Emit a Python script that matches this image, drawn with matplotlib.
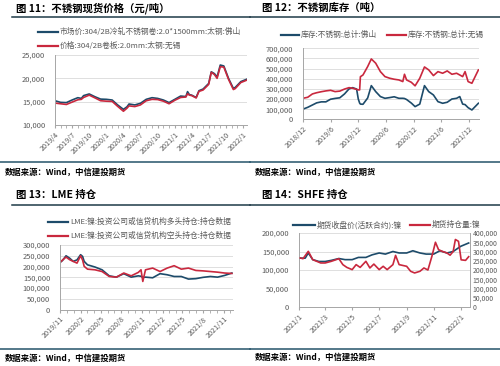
import numpy as np
import pandas as pd
import matplotlib
matplotlib.use("Agg")
import matplotlib.pyplot as plt
import matplotlib.dates as mdates
from matplotlib.lines import Line2D
from matplotlib.ticker import FuncFormatter, MultipleLocator

plt.rcParams['font.family'] = ['Noto Sans CJK SC', 'DejaVu Sans']

# ---- data: fig 11, stainless spot price (yuan/t)
p11_dates = ['2019-04-01', '2019-05-01', '2019-06-01', '2019-07-01', '2019-08-01', '2019-08-20',
             '2019-09-01', '2019-10-01', '2019-11-01', '2019-12-01', '2020-01-01', '2020-02-01',
             '2020-03-01', '2020-04-01', '2020-04-20', '2020-05-01', '2020-06-01', '2020-07-01',
             '2020-08-01', '2020-09-01', '2020-10-01', '2020-11-01', '2020-12-01', '2021-01-01',
             '2021-02-01', '2021-03-01', '2021-03-10', '2021-03-20', '2021-04-01', '2021-04-25',
             '2021-05-10', '2021-06-01', '2021-07-01', '2021-07-15', '2021-08-01', '2021-08-15',
             '2021-09-01', '2021-09-20', '2021-10-15', '2021-11-10', '2021-11-20', '2021-12-20',
             '2022-01-20']
p11_foshan = [15200, 14850, 14800, 15350, 15850, 15700, 16300, 16650, 16050, 15550, 15500, 15350,
              14300, 13350, 13900, 14500, 14300, 14650, 15500, 15850, 15700, 15350, 14800, 15500,
              16200, 16100, 17150, 16500, 16400, 15900, 17350, 17700, 18900, 21400, 21000, 20300,
              22850, 22650, 20000, 17850, 18050, 19300, 19800]
p11_wuxi = [14700, 14550, 14400, 14900, 15400, 15500, 15900, 16400, 15800, 15200, 15100, 15050,
            14000, 12950, 13600, 14100, 13950, 14300, 15200, 15500, 15450, 15100, 14550, 15300,
            15900, 16000, 16700, 16400, 16300, 15800, 17200, 17500, 18700, 21300, 20800, 20000,
            22500, 22400, 19800, 17600, 17800, 19100, 19600]

# ---- data: fig 12, stainless inventory (t)
p12_dates = ['2018-12-01', '2019-01-01', '2019-02-01', '2019-03-01', '2019-04-01', '2019-05-01',
             '2019-06-01', '2019-07-01', '2019-08-01', '2019-09-01', '2019-10-01', '2019-10-25',
             '2019-11-20', '2019-12-01', '2019-12-10', '2019-12-15', '2020-01-01', '2020-02-01',
             '2020-02-25', '2020-03-25', '2020-04-25', '2020-05-25', '2020-06-25', '2020-07-25',
             '2020-08-25', '2020-09-20', '2020-10-01', '2020-10-15', '2020-11-15', '2020-12-10',
             '2021-01-10', '2021-02-10', '2021-03-10', '2021-04-10', '2021-05-10', '2021-06-10',
             '2021-07-10', '2021-08-10', '2021-09-10', '2021-10-01', '2021-10-20', '2021-11-05',
             '2021-11-25', '2021-12-20', '2022-02-01']
p12_foshan = [100, 118, 141, 162, 172, 172, 198, 206, 212, 250, 300, 312, 298, 200, 160, 150,
              148, 210, 332, 273, 224, 207, 214, 222, 207, 207, 205, 195, 160, 125, 150, 332,
              273, 240, 174, 158, 168, 200, 207, 224, 150, 145, 115, 92, 158]
p12_wuxi = [207, 217, 250, 262, 272, 280, 286, 273, 278, 298, 312, 306, 295, 290, 290, 420,
            437, 520, 595, 553, 470, 421, 405, 395, 388, 372, 444, 388, 365, 330, 405, 516,
            487, 431, 470, 454, 477, 444, 454, 437, 421, 470, 372, 355, 487]

# ---- data: fig 13, LME nickel positions
p13_dates = ['2019-11-01', '2019-11-12', '2019-11-28', '2019-12-14', '2019-12-30', '2020-01-16',
             '2020-02-01', '2020-02-10', '2020-02-17', '2020-03-03', '2020-04-05', '2020-05-07',
             '2020-06-08', '2020-07-10', '2020-08-12', '2020-09-14', '2020-10-16', '2020-10-28',
             '2020-11-05', '2020-11-17', '2020-12-19', '2021-01-21', '2021-02-22', '2021-03-25',
             '2021-04-26', '2021-05-28', '2021-06-30', '2021-08-01', '2021-09-03', '2021-10-05',
             '2021-11-06', '2021-12-08']
p13_long = [219, 228, 250, 239, 224, 231, 255, 247, 224, 208, 198, 185, 157, 151, 167, 151,
            157, 155, 150, 151, 148, 167, 162, 154, 154, 142, 144, 150, 154, 151, 159, 170]
p13_short = [219, 230, 244, 232, 224, 216, 250, 230, 201, 188, 185, 177, 154, 151, 170, 157,
             173, 185, 131, 185, 193, 177, 193, 204, 188, 193, 182, 180, 177, 174, 170, 168]

# ---- data: fig 14, SHFE nickel
p14_price_dates = ['2021-01-04', '2021-01-15', '2021-01-22', '2021-02-01', '2021-02-15', '2021-03-01',
                   '2021-03-15', '2021-04-01', '2021-04-15', '2021-05-01', '2021-05-15', '2021-06-01',
                   '2021-06-15', '2021-07-01', '2021-07-15', '2021-08-01', '2021-08-15', '2021-09-01',
                   '2021-09-15', '2021-10-01', '2021-10-15', '2021-11-01', '2021-11-15', '2021-12-01',
                   '2021-12-15', '2022-01-01', '2022-01-19']
p14_price = [132, 132, 146, 128, 123, 123, 126, 131, 128, 128, 134, 134, 141, 146, 143, 150, 146,
             146, 152, 146, 143, 143, 152, 146, 150, 164, 173]
p14_oi_dates = ['2021-01-04', '2021-01-10', '2021-01-22', '2021-02-01', '2021-02-10', '2021-02-19',
                '2021-03-01', '2021-03-15', '2021-04-01', '2021-04-10', '2021-04-19', '2021-05-01',
                '2021-05-10', '2021-05-19', '2021-06-01', '2021-06-10', '2021-06-19', '2021-07-01',
                '2021-07-10', '2021-07-19', '2021-08-01', '2021-08-07', '2021-08-15', '2021-09-01',
                '2021-09-10', '2021-09-19', '2021-10-01', '2021-10-10', '2021-10-19', '2021-10-28',
                '2021-11-05', '2021-11-12', '2021-11-20', '2021-12-01', '2021-12-08', '2021-12-15',
                '2021-12-20', '2021-12-27', '2022-01-02', '2022-01-12', '2022-01-19']
p14_oi = [265, 261, 301, 256, 247, 238, 238, 247, 261, 229, 214, 202, 229, 214, 247, 211, 232,
          202, 220, 202, 229, 279, 229, 220, 193, 184, 193, 211, 200, 274, 350, 310, 301, 292,
          280, 300, 365, 355, 255, 252, 272]

W, H = 500, 366
BLUE = '#1d4b6a'
RED = '#c9283e'
GREY = '#595959'
GRID = '#d9d9d9'
AXC = '#a6a6a6'

fig = plt.figure(figsize=(5, 3.66), dpi=100)


def fx(x):
    return x / W


def fy(y):
    return 1 - y / H


def add_ax(x0, y0, x1, y1):
    return fig.add_axes([fx(x0), fy(y1), fx(x1) - fx(x0), fy(y0) - fy(y1)])


def hline(y, x0, x1, color, lw=1.0):
    fig.add_artist(Line2D([fx(x0), fx(x1)], [fy(y), fy(y)], color=color, lw=lw))


def legend_item(x0, x1, y, color, label):
    fig.add_artist(Line2D([fx(x0), fx(x1)], [fy(y), fy(y)], color=color, lw=1.6))
    fig.text(fx(x1 + 2), fy(y), label, fontsize=5.6, color=GREY, va='center', ha='left')


def header(x, y, title, line_y, lx0, lx1):
    fig.text(fx(x), fy(y), title, fontsize=7.5, fontweight='bold', va='center', ha='left')
    hline(line_y, lx0, lx1, '#1e3a48', 1.1)


def footer(x, y, line_y, lx0, lx1):
    hline(line_y, lx0, lx1, '#24536a', 1.1)
    fig.text(fx(x), fy(y), '数据来源：Wind，中信建投期货', fontsize=6, fontweight='bold',
             style='italic', va='center', ha='left')


date_fmt = FuncFormatter(lambda v, pos: f"{mdates.num2date(v).year}/{mdates.num2date(v).month}")
comma_fmt = FuncFormatter(lambda v, pos: f"{int(v):,}")


def style_ax(ax):
    for s in ['top', 'right']:
        ax.spines[s].set_visible(False)
    ax.spines['left'].set_color(AXC)
    ax.spines['bottom'].set_color(AXC)
    ax.spines['left'].set_linewidth(0.7)
    ax.spines['bottom'].set_linewidth(0.7)
    ax.grid(axis='y', color=GRID, lw=0.6)
    ax.set_axisbelow(True)
    ax.tick_params(axis='y', length=0, labelsize=5.4, labelcolor=GREY, pad=7)
    ax.tick_params(axis='x', which='both', length=2.5, color=AXC, labelsize=5.2,
                   labelcolor=GREY, pad=1.5)
    ax.yaxis.set_major_formatter(comma_fmt)
    ax.xaxis.set_major_formatter(date_fmt)


def rotate(ax):
    for lab in ax.get_xticklabels():
        lab.set_rotation(45)
        lab.set_ha('right')
        lab.set_rotation_mode('anchor')


# ---------- fig 11
header(16, 8, '图 11：不锈钢现货价格（元/吨）', 17, 12, 250)
ax1 = add_ax(55, 55, 247, 125)
d = pd.to_datetime(p11_dates)
ax1.plot(d, p11_foshan, color=BLUE, lw=1.2)
ax1.plot(d, p11_wuxi, color=RED, lw=1.2)
ax1.set_ylim(10000, 25000)
ax1.yaxis.set_major_locator(MultipleLocator(5000))
ax1.set_xlim(pd.Timestamp('2019-04-01'), pd.Timestamp('2022-01-22'))
ax1.xaxis.set_major_locator(mdates.MonthLocator(bymonth=[1, 4, 7, 10]))
ax1.xaxis.set_minor_locator(mdates.MonthLocator())
style_ax(ax1)
rotate(ax1)
legend_item(38, 58, 32, BLUE, '市场价:304/2B冷轧不锈钢卷:2.0*1500mm:太钢:佛山')
legend_item(38, 58, 46, RED, '价格:304/2B卷板:2.0mm:太钢:无锡')
footer(5, 172, 162, 0, 250)

# ---------- fig 12
header(262, 8, '图 12：不锈钢库存（吨）', 17, 250, 500)
ax2 = add_ax(303, 48.3, 479, 119.3)
d = pd.to_datetime(p12_dates)
ax2.plot(d, np.array(p12_foshan) * 1000, color=BLUE, lw=1.2)
ax2.plot(d, np.array(p12_wuxi) * 1000, color=RED, lw=1.2)
ax2.set_ylim(0, 700000)
ax2.yaxis.set_major_locator(MultipleLocator(100000))
ax2.set_xlim(pd.Timestamp('2018-12-01'), pd.Timestamp('2022-02-05'))
ax2.xaxis.set_major_locator(mdates.MonthLocator(bymonth=[6, 12]))
style_ax(ax2)
rotate(ax2)
legend_item(281, 299, 35, BLUE, '库存:不锈钢:总计:佛山')
legend_item(387, 406, 35, RED, '库存:不锈钢:总计:无锡')
footer(255, 172, 162, 250, 500)

# ---------- fig 13
header(16, 195, '图 13：LME 持仓', 205, 12, 250)
ax3 = add_ax(60, 245, 233, 309.7)
d = pd.to_datetime(p13_dates)
ax3.plot(d, np.array(p13_long) * 1000, color=BLUE, lw=1.2)
ax3.plot(d, np.array(p13_short) * 1000, color=RED, lw=1.2)
ax3.set_ylim(0, 300000)
ax3.yaxis.set_major_locator(MultipleLocator(50000))
ax3.set_xlim(pd.Timestamp('2019-11-01'), pd.Timestamp('2021-12-13'))
ax3.xaxis.set_major_locator(mdates.MonthLocator(bymonth=[2, 5, 8, 11]))
ax3.xaxis.set_minor_locator(mdates.MonthLocator())
style_ax(ax3)
rotate(ax3)
legend_item(48, 68, 222, BLUE, 'LME:镍:投资公司或信贷机构多头持仓:持仓数据')
legend_item(48, 68, 236, RED, 'LME:镍:投资公司或信贷机构空头持仓:持仓数据')
footer(5, 358, 349, 0, 250)

# ---------- fig 14
header(262, 195, '图 14：SHFE 持仓', 205, 250, 500)
ax4 = add_ax(299, 233, 470, 307)
ax4.plot(pd.to_datetime(p14_price_dates), np.array(p14_price) * 1000, color=BLUE, lw=1.2)
ax4.set_ylim(0, 200000)
ax4.yaxis.set_major_locator(MultipleLocator(50000))
ax4.set_xlim(pd.Timestamp('2021-01-01'), pd.Timestamp('2022-01-22'))
ax4.xaxis.set_major_locator(mdates.MonthLocator(bymonth=[1, 3, 5, 7, 9, 11]))
style_ax(ax4)
ax4b = ax4.twinx()
ax4b.plot(pd.to_datetime(p14_oi_dates), np.array(p14_oi) * 1000, color=RED, lw=1.2)
ax4b.set_ylim(0, 400000)
ax4b.yaxis.set_major_locator(MultipleLocator(50000))
ax4b.yaxis.set_major_formatter(comma_fmt)
for s in ['top', 'left', 'bottom']:
    ax4b.spines[s].set_visible(False)
ax4b.spines['right'].set_color(AXC)
ax4b.spines['right'].set_linewidth(0.7)
ax4b.tick_params(axis='y', length=0, labelsize=4.9, labelcolor=GREY, pad=2)
rotate(ax4)
legend_item(293, 315, 225, BLUE, '期货收盘价(活跃合约):镍')
legend_item(410, 430, 225, RED, '期货持仓量:镍')
footer(255, 357, 349, 250, 500)

fig.savefig('out.png', dpi=100)
